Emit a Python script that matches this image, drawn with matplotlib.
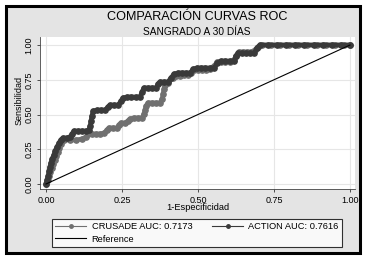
import matplotlib
matplotlib.use("Agg")
import matplotlib.pyplot as plt
from matplotlib.lines import Line2D
from matplotlib.patches import Rectangle

# ROC points (1-specificity, sensitivity)
crusade_fpr = [0, .007, .010, .013, .020, .023, .030, .033, .039, .043, .049, .053, .059,
               .079, .099, .118, .132, .138, .151, .164, .178, .191, .201, .207, .220, .234,
               .240, .247, .260, .270, .276, .289, .303, .316, .322, .326, .329, .336, .349,
               .362, .375, .382, .385, .388, .391, .401, .418, .428, .441, .454, .467, .477,
               .487, .500, .513, .526, .539, .553, .563, .576, .589, .605, .618, .625, .635,
               .648, .661, .674, .688, .697, .711, .74, .77, .80, .83, .86, .89, .92, .95,
               .98, 1.0]
crusade_tpr = [0, .029, .058, .086, .115, .144, .173, .201, .230, .259, .288, .309, .317,
               .317, .317, .324, .338, .360, .360, .360, .360, .367, .388, .403, .403, .403,
               .424, .439, .439, .453, .468, .475, .475, .475, .504, .532, .561, .583, .583,
               .583, .583, .612, .647, .683, .712, .727, .763, .777, .777, .784, .784, .799,
               .820, .820, .820, .820, .827, .849, .878, .878, .878, .878, .892, .921, .950,
               .950, .950, .950, .964, .986, 1.0, 1.0, 1.0, 1.0, 1.0, 1.0, 1.0, 1.0, 1.0,
               1.0, 1.0]

action_fpr = [0, .003, .007, .010, .013, .016, .020, .026, .030, .036, .043, .049, .056,
              .069, .079, .086, .092, .105, .118, .132, .141, .145, .148, .151, .155, .168,
              .181, .194, .204, .211, .224, .237, .247, .253, .266, .280, .296, .309, .316,
              .322, .336, .349, .362, .368, .375, .388, .401, .411, .421, .434, .447, .461,
              .474, .484, .497, .510, .523, .539, .553, .563, .576, .589, .605, .618, .625,
              .632, .645, .658, .671, .684, .694, .704, .73, .76, .79, .82, .85, .88, .91,
              .94, .97, 1.0]
action_tpr = [0, .029, .058, .094, .122, .151, .180, .209, .237, .266, .295, .317, .331,
              .331, .338, .360, .381, .381, .381, .381, .388, .417, .453, .489, .525, .532,
              .532, .532, .554, .568, .568, .568, .597, .619, .626, .626, .626, .626, .662,
              .691, .691, .691, .691, .719, .734, .734, .734, .763, .791, .799, .799, .799,
              .799, .827, .835, .835, .835, .835, .835, .871, .885, .885, .885, .885, .921,
              .942, .942, .942, .942, .942, .978, 1.0, 1.0, 1.0, 1.0, 1.0, 1.0, 1.0, 1.0,
              1.0, 1.0, 1.0]

crusade_label = "CRUSADE AUC: 0.7173"
action_label = "ACTION AUC: 0.7616"
ref_label = "Reference"
ticks = [0.0, 0.25, 0.5, 0.75, 1.0]
tick_labels = ["0.00", "0.25", "0.50", "0.75", "1.00"]

plt.rcParams['font.family'] = ['Liberation Sans', 'DejaVu Sans']

W, H = 368, 263
fig = plt.figure(figsize=(W / 100, H / 100), dpi=100)
fig.patch.set_facecolor('white')

# grey background with the heavy black frame
frame = Rectangle((6 / W, 1 - 253 / H), 354 / W, 247 / H,
                  transform=fig.transFigure, facecolor='#e4e4e4',
                  edgecolor='black', linewidth=2.2, zorder=-10)
fig.add_artist(frame)

ax = fig.add_axes([40 / W, 1 - 189 / H, 315 / W, 152 / H])
ax.set_zorder(1)
ax.set_facecolor('white')

c_crusade = '#707070'
c_action = '#3a3a3a'

ax.plot(crusade_fpr, crusade_tpr, color=c_crusade, lw=3.3, marker='o', ms=3.8,
        solid_capstyle='round', zorder=3)
ax.plot(action_fpr, action_tpr, color=c_action, lw=3.3, marker='o', ms=3.8,
        solid_capstyle='round', zorder=4)
ax.plot([0, 1], [0, 1], color='black', lw=0.8, zorder=5)

ax.set_xlim(-0.0197, 1.0164)
ax.set_ylim(-0.036, 1.0576)
ax.set_xticks(ticks)
ax.set_yticks(ticks)
ax.set_xticklabels(tick_labels)
ax.set_yticklabels(tick_labels, rotation=90, va='center')
ax.tick_params(direction='out', length=2.2, width=0.6, pad=2.5, labelsize=6.5,
               colors='#333333', labelcolor='black')
ax.grid(True, color='#e6e6e6', lw=0.8)
ax.set_axisbelow(True)
for s in ['top', 'right']:
    ax.spines[s].set_visible(False)
for s in ['left', 'bottom']:
    ax.spines[s].set_linewidth(0.6)
    ax.spines[s].set_color('#444444')

ax.set_xlabel("1-Especificidad", fontsize=6.7, va='center')
ax.xaxis.set_label_coords(0.5, -0.125)
ax.set_ylabel("Sensibilidad", fontsize=6.5, va='center', ha='center')
ax.yaxis.set_label_coords(-0.066, 0.58)

fig.text(197 / W, 1 - 17 / H, "COMPARACIÓN CURVAS ROC", ha='center', va='center',
         fontsize=9.1, zorder=2)
fig.text(197 / W, 1 - 32 / H, "SANGRADO A 30 DÍAS", ha='center', va='center',
         fontsize=7.3, zorder=2)

h_crusade = Line2D([], [], color=c_crusade, lw=0.8, marker='o', ms=2.5)
h_action = Line2D([], [], color=c_action, lw=0.8, marker='o', ms=2.5)
h_ref = Line2D([], [], color='black', lw=0.8)
leg = fig.legend([h_crusade, h_ref, h_action], [crusade_label, ref_label, action_label],
                 ncol=2, loc='center', bbox_to_anchor=(52 / W, 1 - 247 / H, 290 / W, 28 / H),
                 mode='expand', fontsize=6.7, frameon=True, fancybox=False,
                 edgecolor='black', handlelength=3.3, handletextpad=0.6,
                 labelspacing=0.35, borderpad=0.35, borderaxespad=0)
leg.get_frame().set_linewidth(0.8)
leg.get_frame().set_facecolor('white')
leg.set_zorder(2)

fig.savefig("out.png", dpi=100, facecolor='white')
